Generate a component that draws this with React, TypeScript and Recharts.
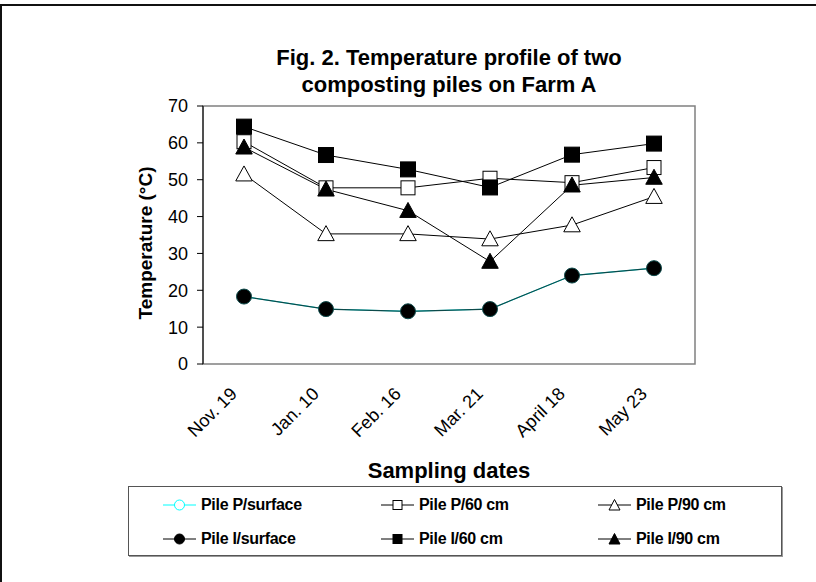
import React from "react";
import { LineChart, Line, XAxis, YAxis, ReferenceArea } from "recharts";

const dates = ["Nov. 19", "Jan. 10", "Feb. 16", "Mar. 21", "April 18", "May 23"];
const pSurface = [18.3, 14.9, 14.3, 14.9, 24.0, 26.0];
const p60 = [60.3, 47.8, 47.8, 50.4, 49.2, 53.3];
const p90 = [51.5, 35.3, 35.3, 33.9, 37.7, 45.4];
const iSurface = [18.3, 14.9, 14.3, 14.9, 24.0, 26.0];
const i60 = [64.4, 56.7, 52.8, 47.9, 56.8, 59.8];
const i90 = [58.8, 47.4, 41.6, 27.8, 48.5, 50.6];
const yTicks = [0, 10, 20, 30, 40, 50, 60, 70];
const bandTicks = [0, 1, 2, 3, 4, 5, 6];

const data = dates.map((d, i) => ({
  pos: i + 0.5,
  date: d,
  pSurface: pSurface[i],
  p60: p60[i],
  p90: p90[i],
  iSurface: iSurface[i],
  i60: i60[i],
  i90: i90[i],
}));

const FONT = "'Liberation Sans', Arial, sans-serif";

const square = (size: number, fill: string) => (props: any) => {
  const { cx, cy, index } = props;
  if (cx == null || cy == null) return <g key={index} />;
  return (
    <rect key={index} x={cx - size / 2} y={cy - size / 2} width={size} height={size}
      fill={fill} stroke="#000" strokeWidth={1} />
  );
};

const triangle = (size: number, fill: string) => (props: any) => {
  const { cx, cy, index } = props;
  if (cx == null || cy == null) return <g key={index} />;
  const h = size;
  const w = size * 1.1;
  const pts = `${cx},${cy - h * 0.55} ${cx + w / 2},${cy + h * 0.45} ${cx - w / 2},${cy + h * 0.45}`;
  return <polygon key={index} points={pts} fill={fill} stroke="#000" strokeWidth={1} />;
};

const circle = (r: number, fill: string, stroke: string) => (props: any) => {
  const { cx, cy, index } = props;
  if (cx == null || cy == null) return <g key={index} />;
  return <circle key={index} cx={cx} cy={cy} r={r} fill={fill} stroke={stroke} strokeWidth={1} />;
};

const DateTick = (props: any) => {
  const { x, y, payload } = props;
  const label = dates[Math.round(payload.value - 0.5)];
  return (
    <g transform={`translate(${x - 6},${y + 31}) rotate(-45)`}>
      <text x={0} y={0} textAnchor="end" fontSize={18} fontFamily={FONT} fill="#000">
        {label}
      </text>
    </g>
  );
};

const YTitle = () => (
  <text transform="translate(152,243) rotate(-90)" textAnchor="middle" fontSize={19}
    fontWeight="bold" fontFamily={FONT} fill="#000">
    Temperature (°C)
  </text>
);

const legendItems = [
  { name: "Pile P/surface", kind: "circle", fill: "#fff", stroke: "#00ffff" },
  { name: "Pile P/60 cm", kind: "square", fill: "#fff", stroke: "#000" },
  { name: "Pile P/90 cm", kind: "triangle", fill: "#fff", stroke: "#000" },
  { name: "Pile I/surface", kind: "circle", fill: "#000", stroke: "#000" },
  { name: "Pile I/60 cm", kind: "square", fill: "#000", stroke: "#000" },
  { name: "Pile I/90 cm", kind: "triangle", fill: "#000", stroke: "#000" },
];

const LegendSymbol = ({ kind, fill, stroke }: any) => (
  <svg width={33} height={16} style={{ display: "block" }}>
    <line x1={0} y1={8} x2={33} y2={8} stroke={stroke} strokeWidth={1} />
    {kind === "circle" && <circle cx={16.5} cy={8} r={5} fill={fill} stroke={stroke} />}
    {kind === "square" && <rect x={12} y={3.5} width={9} height={9} fill={fill} stroke={stroke} />}
    {kind === "triangle" && (
      <polygon points="16.5,2.5 22,13 11,13" fill={fill} stroke={stroke} />
    )}
  </svg>
);

const colX = [34, 252, 469];
const rowY = [18, 52];

export default function App() {
  return (
    <div style={{ position: "absolute", left: 0, top: 0, width: 816, height: 582, overflow: "hidden", background: "#fff", fontFamily: FONT }}>
      <div style={{ position: "absolute", left: 0, top: 4, width: 900, height: 700, borderLeft: "2px solid #111", borderTop: "2px solid #111" }} />
      <div style={{ position: "absolute", left: 0, top: 44, width: 898, textAlign: "center", fontSize: 22, lineHeight: "27px", fontWeight: "bold", color: "#000" }}>
        Fig. 2. Temperature profile of two<br />composting piles on Farm A
      </div>
      <div style={{ position: "absolute", left: 0, top: 460, width: 898, textAlign: "center", fontSize: 22, lineHeight: "22px", fontWeight: "bold", color: "#000" }}>
        Sampling dates
      </div>
      <LineChart width={816} height={582} data={data}
        margin={{ top: 106, right: 121, left: 0, bottom: 118 }}
        style={{ position: "absolute", left: 0, top: 0 }}>
        <ReferenceArea xAxisId="lab" y1={0} y2={70} fill="none" stroke="#808080" strokeWidth={1.5} />
        <XAxis xAxisId="grid" type="number" dataKey="pos" domain={[0, 6]} ticks={bandTicks}
          tick={false} height={0} tickSize={6} axisLine={{ stroke: "#000" }} tickLine={{ stroke: "#000" }} />
        <XAxis xAxisId="lab" type="number" dataKey="pos" domain={[0, 6]} ticks={data.map((d) => d.pos)}
          interval={0} tick={<DateTick />} tickLine={false} axisLine={false} tickSize={0} tickMargin={0} height={100} />
        <YAxis domain={[0, 70]} ticks={yTicks} width={203} tickSize={6} tickMargin={9}
          axisLine={{ stroke: "#000" }} tickLine={{ stroke: "#000" }} interval={0}
          tick={{ fontSize: 18, fontFamily: FONT, fill: "#000" }} label={<YTitle />} />
        <Line xAxisId="lab" dataKey="pSurface" stroke="#00ffff" strokeWidth={1} dot={circle(5, "#fff", "#00ffff")} isAnimationActive={false} />
        <Line xAxisId="lab" dataKey="p60" stroke="#000" strokeWidth={1} dot={square(14, "#fff")} isAnimationActive={false} />
        <Line xAxisId="lab" dataKey="p90" stroke="#000" strokeWidth={1} dot={triangle(15, "#fff")} isAnimationActive={false} />
        <Line xAxisId="lab" dataKey="iSurface" stroke="#0d4a4a" strokeWidth={1.2} dot={circle(7.5, "#000", "#0d4a4a")} isAnimationActive={false} />
        <Line xAxisId="lab" dataKey="i60" stroke="#000" strokeWidth={1} dot={square(15, "#000")} isAnimationActive={false} />
        <Line xAxisId="lab" dataKey="i90" stroke="#000" strokeWidth={1} dot={triangle(15, "#000")} isAnimationActive={false} />
      </LineChart>
      <div style={{ position: "absolute", left: 128, top: 486, width: 652, height: 68, border: "1px solid #555", boxShadow: "1px 1px 0 #999" }}>
        {legendItems.map((it, i) => (
          <div key={it.name} style={{ position: "absolute", left: colX[i % 3], top: rowY[Math.floor(i / 3)] - 9, display: "flex", alignItems: "center", height: 18 }}>
            <LegendSymbol kind={it.kind} fill={it.fill} stroke={it.stroke} />
            <span style={{ marginLeft: 5, fontSize: 16, fontWeight: "bold", color: "#000", whiteSpace: "nowrap", letterSpacing: -0.3 }}>{it.name}</span>
          </div>
        ))}
      </div>
    </div>
  );
}
